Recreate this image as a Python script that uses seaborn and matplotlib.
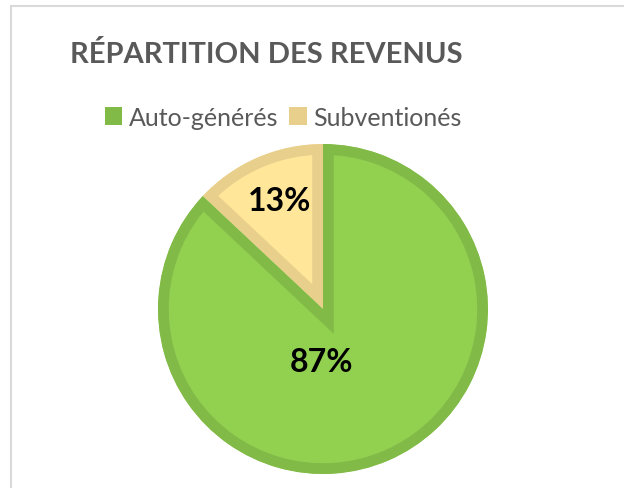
import matplotlib
matplotlib.use("Agg")
import matplotlib.pyplot as plt
from matplotlib.patches import Patch
from matplotlib.lines import Line2D
import seaborn as sns

# data
categories = ["Subventionés", "Auto-générés"]
shares = [13, 87]
legend_order = ["Auto-générés", "Subventionés"]
title = "RÉPARTITION DES REVENUS"

fill_colors = {"Auto-générés": "#92D050", "Subventionés": "#FFE699"}
edge_colors = {"Auto-générés": "#82BA48", "Subventionés": "#E8CF8C"}

sns.set_theme(style="white")
plt.rcParams["font.family"] = ["Lato", "DejaVu Sans"]

W, H = 624, 489
fig = plt.figure(figsize=(W / 100, H / 100), dpi=100)
fig.patch.set_facecolor("white")

# pie axes: center (323, 310) px, unit radius = 165 px
cx, cy, r = 323, 310, 165
half = r * 1.02
ax = fig.add_axes([(cx - half) / W, (H - cy - half) / H, 2 * half / W, 2 * half / H])

wedges, _, autotexts = ax.pie(
    shares,
    colors=[fill_colors[c] for c in categories],
    startangle=90,
    counterclock=True,
    autopct=lambda p: f"{p:.0f}%",
    textprops=dict(fontsize=23, fontweight="bold", color="black"),
)
# inner border: double-width stroke clipped to the wedge itself
for w, c in zip(wedges, categories):
    w.set_edgecolor(edge_colors[c])
    w.set_linewidth(15.5)
    w.set_joinstyle("miter")
    w.set_clip_on(True)
    w.set_clip_path(w)

# label placement (axes units)
label_pos = [(-0.265, 0.66), (-0.01, -0.32)]
for t, pos in zip(autotexts, label_pos):
    t.set_position(pos)
    t.set_ha("center")
    t.set_va("center")

ax.set_xlim(-1.02, 1.02)
ax.set_ylim(-1.02, 1.02)
ax.axis("off")

# title
fig.text(266 / W, 1 - 63 / H, title, ha="center", va="baseline",
         fontsize=21, fontweight="bold", color="#595959")

# legend
handles = [Patch(facecolor=edge_colors[c], edgecolor="none") for c in legend_order]
fig.legend(handles, legend_order, loc="center", bbox_to_anchor=(283 / W, 1 - 118 / H),
           ncol=2, frameon=False, fontsize=18, labelcolor="#595959",
           handlelength=0.7, handleheight=0.75, handletextpad=0.25, columnspacing=0.45)

# chart area border (top and left visible)
fig.add_artist(Line2D([11 / W, 1], [1 - 7 / H, 1 - 7 / H], color="#D9D9D9", lw=1.5))
fig.add_artist(Line2D([11 / W, 11 / W], [0, 1 - 7 / H], color="#D9D9D9", lw=1.5))

fig.savefig("out.png", dpi=100)
